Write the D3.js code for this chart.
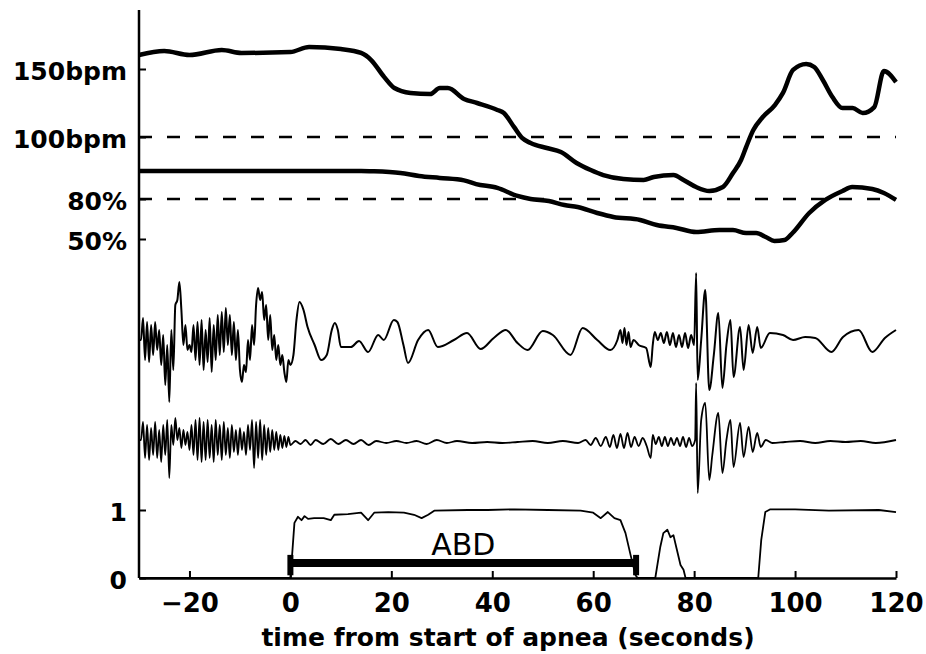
<!DOCTYPE html>
<html>
<head>
<meta charset="utf-8">
<script src="https://cdn.jsdelivr.net/npm/d3@7"></script>
<style>
  body { margin: 0; background: #fff; }
  svg { display: block; }
</style>
</head>
<body>
<div id="chart"></div>
<script>
// time (s from start of apnea) and value pairs

// heart rate, bpm
const heartRate = [[-30,160.3],[-25,163.2],[-20,160.3],[-13.6,164],[-9.7,161.8],[0,162.5],[3.7,166.2],[10,164.7],[14,161.8],[16,156.6],[18.6,144],[20.6,136],[23.8,132.4],[27.7,131.6],[29.6,136],[31.2,136],[34.4,128],[37,125],[41,119.9],[42.3,117.6],[44.3,107.4],[45.9,99.3],[47.6,95.6],[50.8,91.9],[53.6,89],[56.7,80.9],[59.5,75.7],[62,72],[66,69.1],[70,68.4],[72,70.6],[75.9,72],[77.9,68.4],[80.4,63.2],[83,60.3],[85.7,63.2],[87.7,73.5],[89.3,83.1],[90.3,92.6],[91.7,105],[93.6,114.7],[96,123.5],[97.6,132.4],[99.6,149.3],[102.2,153.7],[103.8,151.5],[105.5,141.9],[107.4,129.4],[109.4,121.3],[111.4,121.3],[113.4,117.6],[115.7,122],[117.6,148.5],[120,140.4]]

// oxygen saturation, %
const saturation = [[-30,101],[0,101],[14,101],[16,100.8],[21.8,99.5],[25.5,97.3],[29.6,95.8],[34.4,94],[36.8,91.2],[41,88.3],[45,82.3],[47.6,80],[51.2,78.5],[54.3,75.5],[56.9,74],[60.8,69.5],[64,66.5],[69.3,64.3],[72.6,60.5],[76.5,58.3],[80.4,55.2],[85,56.7],[87.7,56.7],[90.3,54.5],[92.3,54.5],[94.2,51.5],[95.9,48.5],[97.9,49.2],[99.5,54.5],[102.8,69.5],[106,79.3],[109.4,86],[111.3,89],[115.3,87.5],[117.6,84.5],[120,79.3]]

// upper effort trace, arbitrary units
const upperEffort = [[-30,0.5],[-29.6,0.5],[-29.2,2.7],[-28.8,-1.5],[-28.4,2.3],[-28,-1.7],[-27.6,2],[-27.2,-1],[-26.8,2.3],[-26.4,-0.5],[-26,1.5],[-25.6,-2],[-25.2,1],[-24.8,-4],[-24.4,0],[-24,-5.7],[-23.6,1.5],[-23.2,-2.5],[-22.8,4],[-22.4,4.5],[-22,6.3],[-21.6,3.5],[-21.2,0],[-20.8,2],[-20.4,-0.5],[-20,0],[-19.6,-0.7],[-19.2,2],[-18.8,-1.5],[-18.4,2.3],[-18,-2],[-17.6,2.5],[-17.2,-2.5],[-16.8,1.5],[-16.4,-1.7],[-16,2.7],[-15.6,-2.7],[-15.2,2],[-14.8,-1.5],[-14.4,3],[-14,-1],[-13.6,3.3],[-13.2,-0.7],[-12.8,3.7],[-12.4,0],[-12,3],[-11.6,-1],[-11.2,2.3],[-10.8,-1.5],[-10.4,1.5],[-10,-2.5],[-9.6,-3.7],[-9.2,-2],[-8.8,-2.7],[-8.4,0.5],[-8,-1.5],[-7.6,2],[-7.2,0],[-6.8,4],[-6.4,5.7],[-6,4.5],[-5.6,5.3],[-5.2,2.5],[-4.8,4],[-4.4,0.5],[-4,3],[-3.6,-0.5],[-3.2,1],[-2.8,-1.5],[-2.4,0],[-2,-2],[-1.6,-1],[-1.2,-2.7],[-0.8,-3.7],[-0.4,-1.5],[0,-2],
  [0.6,-1],[1.2,2.5],[1.8,4.3],[2.6,3.5],[3.4,1.8],[4.8,0],[6.1,-1.5],[7.2,-1],[8.2,1.5],[8.8,2.2],[9.4,1.5],[10,-0.2],[12,-0.2],[13.6,0.4],[15.4,-0.7],[17.4,1],[18.5,0.5],[20.5,2.5],[21.2,2.3],[22.4,0],[23.3,-1.8],[25.3,0.5],[27.3,1.5],[29.2,-0.2],[32.4,0.5],[35,1.2],[37.7,-0.4],[40.3,0.7],[42.7,1.5],[45,0.2],[47,-0.5],[50,1.4],[52,1],[55.5,-1],[57.9,1.7],[60.8,0.5],[63.4,-0.5],[64.8,0.5],
  [65.4,1.5],[65.8,0.2],[66.2,1.7],[66.6,0],[67,1.3],[67.4,-0.2],[68,0.5],[69,0],[70.5,-0.3],[71.4,-2.2],[71.8,0],[72.2,1.3],[72.8,0.5],[73.4,1.2],[74,0.2],[74.6,1.3],[75.2,0],[75.8,1.2],[76.4,-0.2],[77,1],[77.6,-0.2],[78.2,1.2],[78.8,-0.3],[79.4,1],[80,0],
  [80.4,7.2],[80.7,-3.5],[81.4,0.5],[82.2,5.5],[83,-4.5],[83.9,-1],[84.8,3.2],[85.6,-4.3],[86.4,0],[87.2,2.5],[87.8,-3.2],[89.1,1.8],[89.8,-2.5],[90.8,2],[91.6,-0.8],[92.5,1.8],[93.2,-0.3],[95,1.2],[97.6,1],[99.6,0.5],[102,0.8],[104,0.7],[107.2,-0.7],[109.5,0.8],[112.6,1.5],[115.3,-0.7],[117.8,0.7],[120,1.5]]

// lower effort trace, arbitrary units
const lowerEffort = [[-30,0.2],[-29.6,0.2],[-29.2,2],[-28.8,-1.6],[-28.4,1.7],[-28,-1.8],[-27.6,1.4],[-27.2,-1.3],[-26.8,2],[-26.4,-1.6],[-26,1.2],[-25.6,-2],[-25.2,1.7],[-24.8,-1.3],[-24.4,2.2],[-24,-3.6],[-23.6,1.7],[-23.2,-0.3],[-22.8,2.4],[-22.4,0.2],[-22,1.4],[-21.6,-0.6],[-21.2,1.2],[-20.8,-0.3],[-20.4,1],[-20,-0.8],[-19.6,1.7],[-19.2,-1.3],[-18.8,2.2],[-18.4,-1.8],[-18,2.4],[-17.6,-2],[-17.2,2],[-16.8,-1.8],[-16.4,2.2],[-16,-1.6],[-15.6,1.7],[-15.2,-2],[-14.8,2.2],[-14.4,-1.3],[-14,1.7],[-13.6,-1.8],[-13.2,2],[-12.8,-1.3],[-12.4,1.4],[-12,-1.6],[-11.6,1.7],[-11.2,-1],[-10.8,1.2],[-10.4,-1.3],[-10,1.4],[-9.6,-0.8],[-9.2,1],[-8.8,-1.3],[-8.4,1.7],[-8,-0.8],[-7.6,2.2],[-7.2,-2.6],[-6.8,2],[-6.4,-1.6],[-6,2.2],[-5.6,-1.8],[-5.2,1.7],[-4.8,-1.3],[-4.4,1.4],[-4,-1],[-3.6,1.2],[-3.2,-0.8],[-2.8,1],[-2.4,-0.8],[-2,0.7],[-1.6,-0.6],[-1.2,0.6],[-0.8,-0.5],[-0.4,0.5],[0,-0.3],
  [1,0.1],[2,-0.2],[3,0.2],[4,-0.3],[5,0.2],[6.5,-0.2],[8,0.3],[9.5,-0.2],[11,0.2],[12.5,-0.2],[14,0.2],[15.5,-0.3],[17,0.1],[19,-0.1],[21,0.1],[23,-0.1],[25,0.1],[27,-0.2],[29,0.2],[31,-0.1],[33,0.1],[36,-0.1],[39,0],[42,-0.1],[45,0],[48,0.1],[51,-0.1],[54,0.1],[57,-0.1],
  [58.5,0.2],[59.5,-0.3],[60.5,0.4],[61.5,-0.4],[62.5,0.5],[63.3,-0.5],[64,0.7],[64.7,-0.6],[65.4,0.8],[66.1,-0.6],[66.8,0.9],[67.5,-0.5],[68.2,0.5],[69,-0.4],[69.8,0.4],[70.6,-0.4],[71.4,-1.6],[71.8,0.7],[72.4,-0.2],[73,0.5],[73.6,-0.4],[74.2,0.5],[74.8,-0.4],[75.4,0.4],[76,-0.3],[76.6,0.4],[77.2,-0.4],[77.8,0.5],[78.4,-0.5],[79,0.4],[79.6,-0.4],[80.2,0.2],
  [80.4,5.9],[80.7,-5.1],[81.4,2.2],[82.2,3.9],[83,-3.8],[83.6,-1.3],[84.8,2.9],[85.6,-3.1],[86.4,0.2],[87.2,2.2],[87.8,-2.5],[89.1,1.9],[89.8,-1.5],[90.8,1.5],[91.6,-1],[92.5,0.9],[93.2,-0.5],[94.2,0.2],[95.5,-0.1],[98,0],[101,0.1],[104,-0.1],[107,0.1],[110,0],[113,0.1],[116,-0.1],[120,0.2]]

// bottom trace, 0..1
const effortRatio = [[-30,0],[0,0],[0.4,0.4],[0.8,0.81],[1.5,0.9],[2.2,0.85],[2.8,0.91],[3.5,0.87],[4.7,0.88],[6.6,0.88],[8,0.85],[8.7,0.93],[11.4,0.94],[14,0.96],[15.4,0.85],[16.6,0.96],[19.4,0.97],[22.5,0.96],[24.5,0.93],[26,0.88],[27.3,0.93],[28.5,0.99],[35.2,1],[39.1,1],[44.4,1.01],[51,1],[57.5,0.99],[60,0.96],[61.5,0.88],[62.9,0.97],[64.2,0.88],[65.4,0.85],[66.4,0.66],[67.4,0.34],[68.4,0.04],[68.8,0],[72.3,0],[73.3,0.46],[73.9,0.66],[74.7,0.71],[75.3,0.6],[75.9,0.63],[76.5,0.44],[77.3,0.19],[77.9,0.12],[78.3,0],[92.7,0],[93.3,0.56],[94.1,0.97],[95.1,1.01],[100,1.01],[106.7,0.99],[116.6,1],[120,0.97]]

const xTicks = [-20, 0, 20, 40, 60, 80, 100, 120]
const hrTicks = [150, 100]
const satTicks = [80, 50]
const ratioTicks = [1, 0]
const hrReference = 100
const satReference = 80
const abdEvent = {label: "ABD", start: 0, end: 68.5, level: 0.22}
const xTitle = "time from start of apnea (seconds)"

const width = 926, height = 654
const plotLeft = 139, plotRight = 896, plotTop = 10, plotBottom = 578
const font = "'DejaVu Sans', sans-serif"

const svg = d3.select("#chart").append("svg")
  .attr("width", width)
  .attr("height", height)

let x = d3.scaleLinear().domain([-30, 120]).range([plotLeft, plotRight])
let yHr = d3.scaleLinear().domain([100, 150]).range([137, 69])
let ySat = d3.scaleLinear().domain([50, 80]).range([239, 199])
let yUpper = d3.scaleLinear().domain([-10, 10]).range([445, 245])
let yLower = d3.scaleLinear().domain([-10, 10]).range([542, 342])
let yRatio = d3.scaleLinear().domain([0, 1]).range([plotBottom, 510])

// dashed reference lines
svg.append("g").selectAll("line")
  .data([yHr(hrReference), ySat(satReference)])
  .join("line")
  .attr("x1", plotLeft).attr("x2", plotRight)
  .attr("y1", d => d).attr("y2", d => d)
  .attr("stroke", "#000")
  .attr("stroke-width", 2.5)
  .attr("stroke-dasharray", "13,15")

const drawLine = (data, yScale, widthPx, curve) => {
  svg.append("path")
    .datum(data)
    .attr("fill", "none")
    .attr("stroke", "#000")
    .attr("stroke-width", widthPx)
    .attr("stroke-linejoin", "round")
    .attr("d", d3.line()
      .x(d => x(d[0]))
      .y(d => yScale(d[1]))
      .curve(curve))
}

drawLine(heartRate, yHr, 4.5, d3.curveMonotoneX)
drawLine(saturation, ySat, 4.5, d3.curveMonotoneX)
drawLine(upperEffort, yUpper, 2, d3.curveMonotoneX)
drawLine(lowerEffort, yLower, 1.8, d3.curveMonotoneX)
drawLine(effortRatio, yRatio, 1.8, d3.curveLinear)

// ABD event bar with end caps
let abdY = yRatio(abdEvent.level)
svg.append("line")
  .attr("x1", x(abdEvent.start)).attr("x2", x(abdEvent.end))
  .attr("y1", abdY).attr("y2", abdY)
  .attr("stroke", "#000")
  .attr("stroke-width", 8)
svg.append("g").selectAll("rect")
  .data([abdEvent.start, abdEvent.end])
  .join("rect")
  .attr("x", d => x(d) - 3)
  .attr("y", yRatio(0.34))
  .attr("width", 6)
  .attr("height", yRatio(0.04) - yRatio(0.34))
  .attr("fill", "#000")
svg.append("text")
  .attr("x", x((abdEvent.start + abdEvent.end) / 2))
  .attr("y", abdY - 8)
  .attr("text-anchor", "middle")
  .attr("font-family", font)
  .attr("font-size", 30)
  .text(abdEvent.label)

// axes
svg.append("line")
  .attr("x1", plotLeft).attr("x2", plotLeft)
  .attr("y1", plotTop).attr("y2", plotBottom)
  .attr("stroke", "#000")
  .attr("stroke-width", 2.5)

const leftAxis = (scale, ticks, fmt) => {
  svg.append("g")
    .attr("class", "y axis")
    .attr("transform", "translate(" + plotLeft + ",0)")
    .call(d3.axisLeft(scale).tickValues(ticks).tickFormat(fmt)
      .tickSizeInner(-7).tickSizeOuter(0).tickPadding(12))
    .call(g => g.select(".domain").remove())
    .call(g => g.selectAll("line").attr("stroke-width", 2))
    .call(g => g.selectAll("text")
      .attr("dy", "0.42em")
      .attr("font-family", font)
      .attr("font-weight", "bold")
      .attr("font-size", 25))
}
leftAxis(yHr, hrTicks, d => d + "bpm")
leftAxis(ySat, satTicks, d => d + "%")
leftAxis(yRatio, ratioTicks, d3.format("d"))

svg.append("g")
  .attr("class", "x axis")
  .attr("transform", "translate(0," + plotBottom + ")")
  .call(d3.axisBottom(x).tickValues(xTicks)
    .tickSizeInner(-7).tickSizeOuter(0).tickPadding(16))
  .call(g => g.select(".domain").attr("stroke-width", 2.5))
  .call(g => g.selectAll(".tick line").attr("stroke-width", 2))
  .call(g => g.selectAll("text")
    .attr("font-family", font)
    .attr("font-weight", "bold")
    .attr("font-size", 26))

svg.append("text")
  .attr("x", 508)
  .attr("y", 646)
  .attr("text-anchor", "middle")
  .attr("font-family", font)
  .attr("font-weight", "bold")
  .attr("font-size", 25)
  .text(xTitle)
</script>
</body>
</html>
